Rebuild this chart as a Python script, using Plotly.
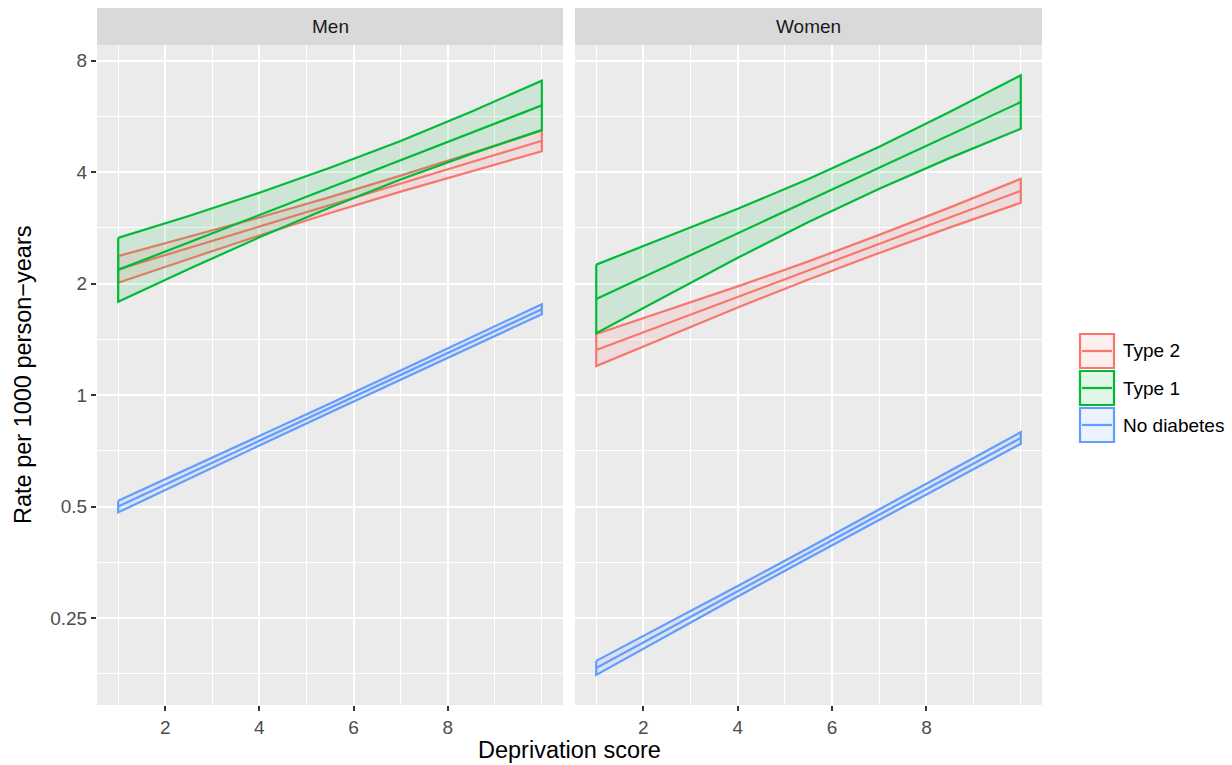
import math
import plotly.graph_objects as go

# ---------------- data ----------------
x_score = [1, 2.5, 4, 5.5, 7, 8.5, 10]

men_t2_lo = [2.013, 2.333, 2.698, 3.103, 3.545, 4.025, 4.556]
men_t2_mid = [2.186, 2.498, 2.854, 3.261, 3.726, 4.257, 4.863]
men_t2_hi = [2.375, 2.675, 3.018, 3.427, 3.916, 4.502, 5.192]

men_t1_lo = [1.787, 2.192, 2.668, 3.213, 3.823, 4.483, 5.196]
men_t1_mid = [2.180, 2.585, 3.065, 3.635, 4.310, 5.111, 6.060]
men_t1_hi = [2.660, 3.048, 3.521, 4.112, 4.859, 5.826, 7.068]

men_nd_lo = [0.4826, 0.5943, 0.7315, 0.8985, 1.1024, 1.3509, 1.6543]
men_nd_mid = [0.5003, 0.6138, 0.7532, 0.9240, 1.1337, 1.3910, 1.7066]
men_nd_hi = [0.5187, 0.6340, 0.7756, 0.9502, 1.1659, 1.4323, 1.7605]

women_t2_lo = [1.199, 1.441, 1.726, 2.054, 2.422, 2.839, 3.307]
women_t2_mid = [1.325, 1.562, 1.842, 2.172, 2.562, 3.021, 3.563]
women_t2_hi = [1.463, 1.694, 1.967, 2.298, 2.709, 3.215, 3.839]

women_t1_lo = [1.470, 1.863, 2.349, 2.935, 3.610, 4.373, 5.240]
women_t1_mid = [1.820, 2.231, 2.736, 3.355, 4.114, 5.046, 6.187]
women_t1_hi = [2.252, 2.672, 3.186, 3.835, 4.689, 5.822, 7.306]

women_nd_lo = [0.1757, 0.2243, 0.2859, 0.3635, 0.4613, 0.5842, 0.7390]
women_nd_mid = [0.1835, 0.2329, 0.2955, 0.3750, 0.4758, 0.6038, 0.7662]
women_nd_hi = [0.1917, 0.2417, 0.3054, 0.3868, 0.4909, 0.6240, 0.7944]

groups = ["Type 2", "Type 1", "No diabetes"]
panels = ["Men", "Women"]
x_ticks = [2, 4, 6, 8]
y_ticks = [0.25, 0.5, 1, 2, 4, 8]
y_ticktext = ["0.25", "0.5", "1", "2", "4", "8"]

# ---------------- styling ----------------
W, H = 1232, 765
FONT = "Liberation Sans, Arial, Helvetica, sans-serif"
SMALL = 19
TITLE = 23.5
line_cols = {"Type 2": "#F8766D", "Type 1": "#00BA38", "No diabetes": "#619CFF"}
fill_cols = {"Type 2": "rgba(248,118,109,0.12)",
             "Type 1": "rgba(0,186,56,0.12)",
             "No diabetes": "rgba(97,156,255,0.12)"}
LW = 2.2

panel_px = {"Men": (97, 563), "Women": (575, 1042)}
top_px, bot_px = 45, 705
strip_top = 8


def px_x(p):
    return p / W


def px_y(p):
    return 1 - p / H


data = {
    "Men": {"Type 2": (men_t2_lo, men_t2_mid, men_t2_hi),
            "Type 1": (men_t1_lo, men_t1_mid, men_t1_hi),
            "No diabetes": (men_nd_lo, men_nd_mid, men_nd_hi)},
    "Women": {"Type 2": (women_t2_lo, women_t2_mid, women_t2_hi),
              "Type 1": (women_t1_lo, women_t1_mid, women_t1_hi),
              "No diabetes": (women_nd_lo, women_nd_mid, women_nd_hi)},
}

fig = go.Figure()

for i, panel in enumerate(panels):
    xa = "x" if i == 0 else "x2"
    ya = "y" if i == 0 else "y2"
    for g in groups:
        lo, mid, hi = data[panel][g]
        xs = x_score + x_score[::-1] + [x_score[0]]
        ys = hi + lo[::-1] + [hi[0]]
        fig.add_trace(go.Scatter(
            x=xs, y=ys, mode="lines", fill="toself",
            fillcolor=fill_cols[g],
            line=dict(color=line_cols[g], width=LW),
            xaxis=xa, yaxis=ya, showlegend=False, hoverinfo="skip", name=g))
        fig.add_trace(go.Scatter(
            x=x_score, y=mid, mode="lines",
            line=dict(color=line_cols[g], width=LW),
            xaxis=xa, yaxis=ya, showlegend=False, name=g))

ylo = math.log10(2 ** -2.7788)
yhi = math.log10(2 ** 3.1411)

x_minor = [1, 3, 5, 7, 9, 10]
y_minor = [0.177, 0.3536, 0.7071, 1.4142, 2.8284, 5.6569]

tickfont = dict(family=FONT, size=SMALL, color="#4D4D4D")


def xaxis_cfg(panel):
    l, r = panel_px[panel]
    return dict(domain=[px_x(l), px_x(r)], range=[0.55, 10.45],
                tickmode="array", tickvals=x_ticks,
                ticktext=[str(t) for t in x_ticks],
                showgrid=True, gridcolor="white", gridwidth=2,
                minor=dict(tickmode="array", tickvals=x_minor, showgrid=True,
                           gridcolor="white", gridwidth=1, ticks=""),
                zeroline=False, showline=False,
                ticks="outside", ticklen=5, tickwidth=1.5, tickcolor="#333333",
                tickfont=tickfont, anchor="y" if panel == "Men" else "y2",
                fixedrange=True)


def yaxis_cfg(first):
    d = dict(domain=[px_y(bot_px), px_y(top_px)], type="log", range=[ylo, yhi],
             tickmode="array", tickvals=y_ticks, ticktext=y_ticktext,
             showgrid=True, gridcolor="white", gridwidth=2,
             minor=dict(tickmode="array", tickvals=y_minor, showgrid=True,
                        gridcolor="white", gridwidth=1, ticks=""),
             zeroline=False, showline=False, fixedrange=True)
    if first:
        d.update(ticks="outside", ticklen=5, tickwidth=1.5, tickcolor="#333333",
                 tickfont=tickfont, anchor="x")
    else:
        d.update(showticklabels=False, ticks="", anchor="x2", matches="y")
    return d


shapes = []
annotations = []

# facet strips
for panel in panels:
    l, r = panel_px[panel]
    shapes.append(dict(type="rect", xref="paper", yref="paper",
                       x0=px_x(l), x1=px_x(r), y0=px_y(top_px), y1=px_y(strip_top),
                       fillcolor="#D9D9D9", line=dict(width=0), layer="below"))
    annotations.append(dict(text=panel, xref="paper", yref="paper",
                            x=px_x((l + r) / 2), y=px_y((strip_top + top_px) / 2),
                            showarrow=False, xanchor="center", yanchor="middle",
                            font=dict(family=FONT, size=SMALL, color="#1A1A1A")))

# axis titles
annotations.append(dict(text="Deprivation score", xref="paper", yref="paper",
                        x=px_x((97 + 1042) / 2), y=px_y(750), showarrow=False,
                        xanchor="center", yanchor="middle",
                        font=dict(family=FONT, size=TITLE, color="black")))
annotations.append(dict(text="Rate per 1000 person\u2212years", xref="paper", yref="paper",
                        x=px_x(23), y=px_y((top_px + bot_px) / 2), showarrow=False,
                        textangle=-90, xanchor="center", yanchor="middle",
                        font=dict(family=FONT, size=TITLE, color="black")))

# legend (ggplot-style keys)
key_l, key_r = 1080, 1114
key_tops = [334, 371, 408]
key_h = 34
for g, t in zip(groups, key_tops):
    shapes.append(dict(type="rect", xref="paper", yref="paper",
                       x0=px_x(key_l), x1=px_x(key_r), y0=px_y(t + key_h), y1=px_y(t),
                       fillcolor=fill_cols[g], line=dict(color=line_cols[g], width=LW)))
    cy = t + key_h / 2
    shapes.append(dict(type="line", xref="paper", yref="paper",
                       x0=px_x(key_l + 2), x1=px_x(key_r - 2), y0=px_y(cy), y1=px_y(cy),
                       line=dict(color=line_cols[g], width=LW)))
    annotations.append(dict(text=g, xref="paper", yref="paper",
                            x=px_x(1121), y=px_y(cy), showarrow=False,
                            xanchor="left", yanchor="middle",
                            font=dict(family=FONT, size=SMALL, color="black")))

fig.update_layout(
    width=W, height=H,
    margin=dict(l=0, r=0, t=0, b=0),
    paper_bgcolor="white", plot_bgcolor="#EBEBEB",
    showlegend=False,
    xaxis=xaxis_cfg("Men"), xaxis2=xaxis_cfg("Women"),
    yaxis=yaxis_cfg(True), yaxis2=yaxis_cfg(False),
    shapes=shapes, annotations=annotations,
    font=dict(family=FONT),
)

fig.write_html("out.html")
